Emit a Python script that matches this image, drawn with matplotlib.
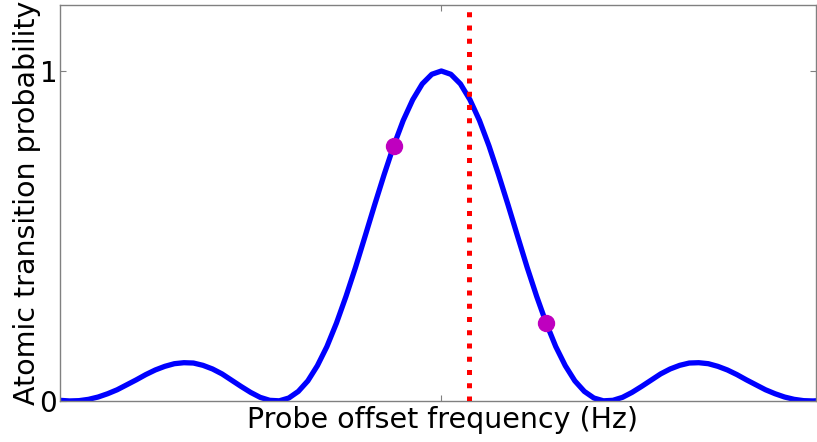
import matplotlib
matplotlib.use('Agg')
import matplotlib.pyplot as plt

# Probe detuning (in units of the Rabi frequency) and transition probability
offset_half = [0.0, 0.1, 0.2, 0.3, 0.4, 0.5, 0.6, 0.7, 0.8, 0.9, 1.0,
               1.1, 1.2, 1.3, 1.4, 1.5, 1.6, 1.7, 1.8, 1.9, 2.0,
               2.1, 2.2, 2.3, 2.4, 2.5, 2.6, 2.7, 2.8, 2.9, 3.0,
               3.1, 3.2, 3.3, 3.4, 3.5, 3.6, 3.7, 3.8, 3.9, 4.0]
prob_half = [1.0, 0.990, 0.961, 0.913, 0.850, 0.773, 0.686, 0.594, 0.499, 0.405, 0.317,
             0.236, 0.165, 0.107, 0.061, 0.029, 0.009, 0.0005, 0.002, 0.011, 0.026,
             0.044, 0.063, 0.082, 0.097, 0.108, 0.115, 0.116, 0.113, 0.105, 0.094,
             0.080, 0.064, 0.049, 0.034, 0.022, 0.012, 0.005, 0.001, 0.0001, 0.002]

offsets = [-x for x in offset_half[:0:-1]] + offset_half
probs = prob_half[:0:-1] + prob_half

# interrogation points and the lock frequency
probe_x = [-0.5, 1.1]
probe_y = [0.773, 0.236]
lock_offset = 0.29

fig = plt.figure(figsize=(8.17, 4.42), dpi=100)
ax = fig.add_axes([0.0734, 0.0928, 0.9254, 0.8959])

ax.plot(offsets, probs, color='blue', lw=3.8, zorder=2)
ax.axvline(lock_offset, color='red', ls=':', lw=3.6, zorder=3)
ax.plot(probe_x, probe_y, 'o', color='m', ms=11.5, zorder=4)

ax.set_xlim(-4.0, 3.93)
ax.set_ylim(0, 1.2)
ax.set_xticks([0])
ax.set_xticklabels([])
ax.set_yticks([0, 1])
ax.tick_params(direction='in', top=True, right=True, length=4, width=0.8,
               color='gray', labelsize=20, pad=2)
for s in ax.spines.values():
    s.set_color('gray')
    s.set_linewidth(1.0)

ax.set_xlabel('Probe offset frequency (Hz)', fontsize=20.5, labelpad=0)
ax.xaxis.set_label_coords(0.506, -0.012)
ax.xaxis.label.set_va('top')
ax.set_ylabel('Atomic transition probability', fontsize=20.5, labelpad=-1)

fig.savefig('out.png', dpi=100)
